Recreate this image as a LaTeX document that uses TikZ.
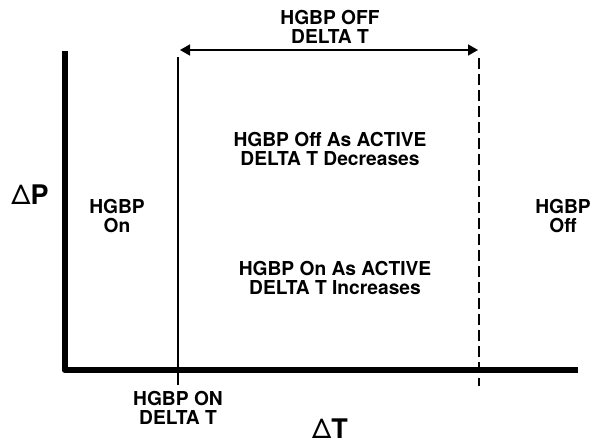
\documentclass[tikz,border=0pt]{standalone}
\usepackage{fontspec}
\setmainfont{TeX Gyre Heros}
\usetikzlibrary{arrows.meta,positioning}

\begin{document}
\begin{tikzpicture}[
  x=1pt,y=-1pt,
  every node/.style={font=\bfseries\fontsize{19.2}{19}\selectfont,
                     align=center,inner sep=0pt},
  big/.style={font=\bfseries\fontsize{27}{28}\selectfont},
  axis/.style={line width=6pt,line join=round},
  limline/.style={line width=1.2pt},
  dlimline/.style={line width=1.3pt,dash pattern=on 11pt off 5pt},
  span/.style={{Triangle[length=10pt,width=11pt]}-{Triangle[length=10pt,width=11pt]},
               line width=1.6pt}
]
\useasboundingbox (0,0) rectangle (603,444);
% axes
\coordinate (ytop) at (64.5,51);
\coordinate (xend) at (578,370);
\draw[axis] (ytop) |- (xend);
\node[big] (dP) at (30,195) {{\mdseries Δ}P};
\node[big] (dT) at (330,429) {{\mdseries Δ}T};

% on / off limits
\coordinate (onT) at (178,57);
\coordinate (onB) at (178,385);
\coordinate (offT) at (479,58);
\coordinate (offB) at (479,386);
\draw[limline] (onT) -- (onB);
\draw[dlimline] (offT) -- (offB);
\node (onlbl) at (178,408) {HGBP ON\\DELTA T};

% band
\coordinate (arL) at (180,50);
\coordinate (arR) at (478,50);
\draw[span] (arL) -- (arR);
\node (offlbl) at (330,27) {HGBP OFF\\DELTA T};

% regions
\node (on) at (117,216) {HGBP\\On};
\node (off) at (563,216) {HGBP\\Off};
\node (dec) at (330,149) {HGBP Off As ACTIVE\\DELTA T Decreases};
\node (inc) at (335,278) {HGBP On As ACTIVE\\DELTA T Increases};
\end{tikzpicture}
\end{document}
